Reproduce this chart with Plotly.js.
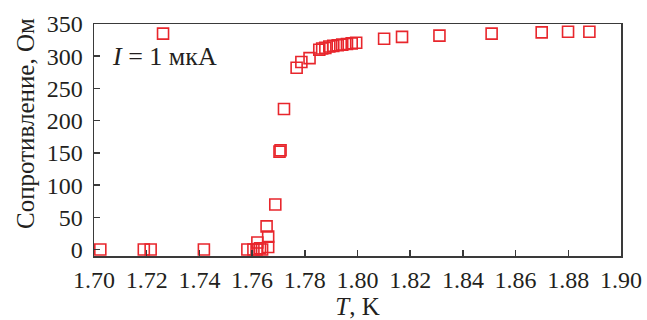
<!DOCTYPE html>
<html><head><meta charset="utf-8">
<script src="https://cdn.plot.ly/plotly-3.0.1.min.js"></script>
<style>html,body{margin:0;padding:0;background:#fff;}#chart{width:647px;height:320px;}</style>
</head><body><div id="chart"></div>
<script>
const temperatureK = [1.7024, 1.7189, 1.7215, 1.7262, 1.7417, 1.7582, 1.7605, 1.7617, 1.7620, 1.7630, 1.7638, 1.7655, 1.7661, 1.7661, 1.7688, 1.7704, 1.7708, 1.7721, 1.7769, 1.7787, 1.7818, 1.7855, 1.7866, 1.7878, 1.7893, 1.7908, 1.7925, 1.7942, 1.7960, 1.7978, 1.7995, 1.8101, 1.8169, 1.8311, 1.8509, 1.8699, 1.8799, 1.8880];
const resistanceOhm = [0, 0, 0, 335, 0, 0, 0, 0, 11, 2, 0, 36, 20, 4, 70, 152, 154, 218, 282, 291, 297, 310, 312, 313, 315, 316, 317, 318, 319, 320, 321, 327, 330, 332, 335, 337, 338, 338];
const xTicks = [1.70, 1.72, 1.74, 1.76, 1.78, 1.80, 1.82, 1.84, 1.86, 1.88, 1.90];
const xTickLabels = ["1.70", "1.72", "1.74", "1.76", "1.78", "1.80", "1.82", "1.84", "1.86", "1.88", "1.90"];
const yTicks = [0, 50, 100, 150, 200, 250, 300, 350];
const yTitle = 'Сопротивление, Ом';
const xTitle = '<i>T</i>, K';
const labelText = '<i>I</i>\u00a0=\u00a01 мкА';

const fam = '"Liberation Serif", "Times New Roman", serif';
const tickFont = {family: fam, size: 24, color: '#231f20'};
const titleFont = {family: fam, size: 25, color: '#231f20'};
const trace = {
  x: temperatureK, y: resistanceOhm, type: 'scatter', mode: 'markers',
  marker: {symbol: 'square-open', size: 11, color: '#e8262c', line: {width: 1.6, color: '#e8262c'}},
  hoverinfo: 'none'
};
const axisCommon = {
  showline: true, linecolor: '#3a3a3a', linewidth: 1.5, mirror: true,
  ticks: 'inside', ticklen: 6, tickwidth: 1.5, tickcolor: '#3a3a3a',
  showgrid: false, zeroline: false, tickfont: tickFont
};
const layout = {
  width: 647, height: 320,
  margin: {l: 94, r: 26, t: 24, b: 64},
  paper_bgcolor: '#fff', plot_bgcolor: '#fff',
  showlegend: false,
  font: tickFont,
  xaxis: Object.assign({}, axisCommon, {
    range: [1.70, 1.90], tickmode: 'array', tickvals: xTicks, ticktext: xTickLabels,
    ticklabelstandoff: 2,
    title: {text: xTitle, font: titleFont, standoff: 2}
  }),
  yaxis: Object.assign({}, axisCommon, {
    range: [-10, 350], tickmode: 'array', tickvals: yTicks,
    ticklabelstandoff: 5
  }),
  annotations: [{
    xref: 'paper', yref: 'paper', x: 0.03, y: 0.86, xanchor: 'left', yanchor: 'middle',
    text: labelText, showarrow: false, font: {family: fam, size: 26, color: '#231f20'}
  }, {
    xref: 'paper', yref: 'paper', x: -0.131, y: 0.573, xanchor: 'center', yanchor: 'middle',
    textangle: -90, text: yTitle, showarrow: false, font: titleFont
  }]
};
Plotly.newPlot('chart', [trace], layout, {staticPlot: true, displayModeBar: false});
</script></body></html>
